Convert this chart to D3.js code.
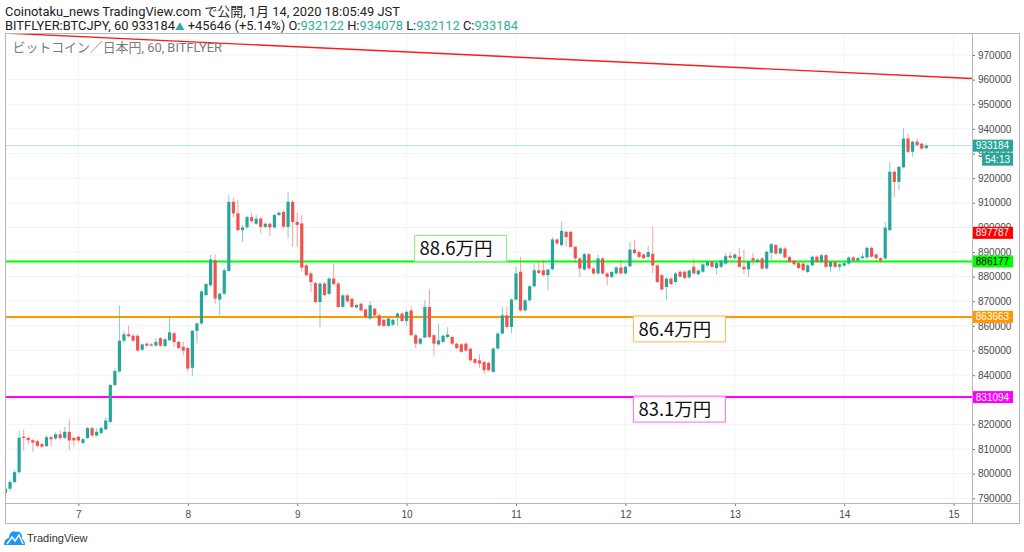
<!DOCTYPE html>
<html>
<head>
<meta charset="utf-8">
<script src="https://cdnjs.cloudflare.com/ajax/libs/d3/7.8.5/d3.min.js"></script>
<style>
    html, body { margin: 0; padding: 0; background: #fff; }
    svg { display: block; }
</style>
</head>
<body>
<svg id="chart" width="1024" height="552"></svg>
<script>
    'use strict';

    // hourly candles, BITFLYER BTCJPY, first candle 2020-01-06 08:00
    var firstCandle = new Date(2020, 0, 6, 8);

    // [open, high, low, close]
    var ohlc = [
        [792200, 794500, 791500, 793900], [793900, 797500, 793000, 796600], [796600, 801500, 796000, 800600],
        [800600, 817500, 800000, 814600], [815000, 817900, 809400, 814500], [814500, 815200, 812000, 813600],
        [813600, 814200, 809000, 812600], [813200, 813800, 810600, 811300], [812000, 812600, 810500, 811000],
        [811200, 815500, 810800, 814800], [814800, 815500, 811000, 814000], [814300, 816800, 813800, 816000],
        [816000, 817500, 813500, 814500], [814500, 819000, 814000, 817000], [817000, 822000, 809400, 813500],
        [814500, 815000, 811000, 813500], [815000, 815500, 812800, 813500], [812500, 814500, 812000, 814000],
        [814500, 819000, 814000, 818500], [818500, 819000, 815000, 815500], [815500, 818500, 815000, 817000],
        [816500, 819500, 816000, 818500], [818000, 823000, 817500, 821600], [821000, 836500, 820500, 836000],
        [836000, 843000, 835500, 841700], [841500, 868300, 841000, 854000], [854000, 858000, 853000, 856600],
        [856600, 860000, 855500, 855800], [856000, 856800, 853500, 854000], [856000, 856500, 849500, 850000],
        [850300, 853000, 849800, 852500], [852800, 853200, 851500, 852000], [852500, 853000, 851600, 852000],
        [852000, 855000, 851500, 853500], [855000, 855500, 851500, 852000], [851800, 855000, 851500, 854600],
        [854200, 863600, 853800, 857400], [857000, 857500, 851500, 853500], [853500, 854000, 850500, 851000],
        [851500, 853500, 848000, 850000], [851000, 851500, 841500, 842700], [843000, 858500, 839700, 858000],
        [858000, 861500, 853000, 861000], [861000, 874500, 860500, 874000], [872500, 877500, 872000, 877000],
        [876500, 889000, 876000, 887000], [886700, 889000, 869000, 871100], [870700, 873600, 864300, 873100],
        [873100, 883500, 872500, 882600], [882300, 913000, 882000, 910400], [910400, 912000, 904000, 905700],
        [905700, 911000, 898500, 898900], [898900, 901000, 894100, 900000], [900000, 904800, 899500, 904200],
        [904200, 906000, 902000, 902500], [901500, 905000, 901000, 903500], [903600, 904200, 897500, 900200],
        [900200, 902000, 899800, 901500], [901500, 902000, 896500, 900000], [900000, 905500, 899500, 905000],
        [905000, 906500, 904500, 906000], [906300, 906800, 899800, 900300], [900200, 914400, 895500, 910400],
        [910400, 911000, 892100, 902200], [902200, 906000, 892000, 901000], [901600, 905000, 882000, 883700],
        [884600, 885500, 880000, 880600], [881300, 882000, 873800, 877800], [877400, 878000, 869200, 869700],
        [869700, 877800, 859600, 877200], [877200, 877800, 872000, 872500], [873000, 879800, 872500, 879200],
        [879200, 885300, 876500, 877000], [877200, 877800, 867200, 867700], [867700, 873000, 867200, 872400],
        [872400, 873000, 869500, 870000], [871000, 871500, 867200, 867700], [867500, 869000, 867000, 868500],
        [869000, 869500, 865800, 866300], [866700, 867200, 863000, 863600], [863000, 870000, 862500, 868400],
        [867000, 867500, 864000, 864300], [864300, 865000, 859800, 860200], [862500, 863000, 859500, 860000],
        [860000, 863500, 859500, 863000], [860500, 863000, 860000, 862500], [863600, 865500, 860000, 865000],
        [865000, 865500, 861500, 862000], [862000, 866200, 860000, 865700], [866300, 868000, 856000, 856200],
        [856200, 856900, 851000, 852800], [852800, 855300, 852300, 854800], [855300, 870400, 855000, 867700],
        [867700, 874800, 855000, 855500], [856200, 856800, 848000, 852800], [852500, 860900, 852000, 854100],
        [853500, 856500, 853000, 856000], [855500, 859500, 855000, 856500], [855500, 856000, 852300, 852800],
        [852800, 853300, 850500, 851000], [852500, 853000, 849000, 849500], [852800, 853300, 849500, 850000],
        [850700, 851200, 845500, 846000], [846500, 847000, 844500, 845000], [846000, 848500, 843000, 844700],
        [845300, 845800, 840600, 842000], [845000, 845500, 841500, 842000], [841300, 851300, 841000, 850800],
        [850800, 857400, 850300, 856900], [856900, 867700, 856400, 864300], [864300, 868000, 859000, 859600],
        [859600, 871200, 857000, 870700], [870700, 884000, 870200, 881300], [882000, 888000, 865800, 866300],
        [866300, 870900, 865800, 870400], [870400, 876600, 869900, 876100], [876100, 885000, 875600, 882600],
        [882600, 886000, 881000, 881500], [882600, 887000, 880000, 880600], [880600, 883000, 874500, 882900],
        [883000, 896000, 882500, 895100], [895100, 895600, 893000, 893500], [892800, 902200, 892300, 898600],
        [898200, 898700, 892100, 896100], [898200, 898700, 891600, 892100], [892100, 892600, 885500, 887400],
        [887400, 887900, 879900, 883300], [882900, 889600, 882400, 889100], [889100, 889600, 882800, 883300],
        [883300, 883800, 880800, 881300], [881300, 889000, 880800, 887400], [887400, 887900, 880800, 881300],
        [881300, 881800, 876500, 879900], [879900, 882400, 879400, 881900], [881300, 884200, 880800, 883700],
        [883700, 887000, 880800, 881300], [881300, 884500, 880800, 884000], [884200, 894100, 883700, 891000],
        [891000, 895000, 889100, 889600], [890000, 890500, 887500, 888000], [889000, 889500, 887000, 887500],
        [888000, 892500, 887500, 890000], [889300, 900200, 881300, 884600], [884600, 885100, 877300, 877800],
        [880600, 881100, 874300, 874800], [875800, 879700, 870400, 879200], [879200, 879700, 876500, 877000],
        [877800, 881800, 877300, 881300], [882000, 882500, 879500, 880000], [882000, 882500, 879000, 879500],
        [879700, 883000, 879200, 882500], [884000, 887500, 880800, 881300], [881000, 883000, 880500, 882500],
        [882000, 885500, 881500, 885000], [884500, 886500, 884000, 886000], [886000, 886500, 883500, 884000],
        [883500, 886000, 881000, 885500], [884000, 887000, 883500, 886500], [885300, 889500, 884800, 888300],
        [888500, 890000, 887200, 887700], [887500, 889500, 887000, 889000], [888100, 891500, 883500, 884000],
        [884000, 891000, 881000, 883000], [883000, 886500, 880000, 886000], [887500, 889500, 884500, 886500],
        [886000, 887500, 885500, 886900], [887400, 887900, 882800, 883300], [883300, 890600, 882800, 890100],
        [889700, 893700, 886800, 893200], [892800, 893300, 888900, 889400], [889400, 892000, 888900, 891500],
        [891400, 891900, 887300, 887800], [888000, 888500, 885500, 886000], [886500, 887000, 884500, 885000],
        [885500, 886000, 883000, 883500], [885300, 885800, 882100, 882600], [881900, 885100, 881400, 884600],
        [884600, 888600, 884100, 888100], [888100, 888600, 885500, 886000], [886000, 889200, 885500, 888700],
        [888700, 889200, 883500, 884000], [884000, 886500, 882000, 886000], [886000, 886500, 883500, 884000],
        [884000, 885500, 882500, 885000], [884500, 886000, 884000, 885500], [885300, 888300, 884800, 887800],
        [887800, 888300, 886000, 886500], [886500, 888000, 886000, 887500], [887500, 889500, 887000, 888200],
        [887800, 892200, 887300, 891700], [891700, 892200, 887600, 888100], [889000, 889500, 886000, 887500],
        [887500, 888000, 885500, 886500], [887400, 902200, 886900, 899900], [898900, 926600, 898400, 922600],
        [922600, 923100, 912400, 918500], [918500, 924900, 915100, 924600], [924400, 940200, 923900, 936100],
        [936100, 938000, 930200, 930700], [930700, 935300, 928700, 934800], [934800, 936000, 933000, 933500],
        [934000, 934500, 931500, 932000], [932122, 934078, 932112, 933184]
    ];

    var priceTicks = d3.range(790000, 970001, 10000);
    var dayTicks = [7, 8, 9, 10, 11, 12, 13, 14, 15].map(function (d) {
        return new Date(2020, 0, d);
    });

    // horizontal support / resistance levels
    var levelPrices = [886177, 863663, 831094];
    var levelNotes = ['88.6万円', '86.4万円', '83.1万円'];
    var noteDays = [10, 12, 12];

    // descending trend line
    var trendTimes = [new Date(2020, 0, 6, 9), new Date(2020, 0, 15, 4)];
    var trendPrices = [978800, 960450];

    // tags on the price scale
    var tagPrices = [933184, 897787, 886177, 863663, 831094];
    var countdown = '54:13';

    var headerTitle = 'Coinotaku_news TradingView.com で公開, 1月 14, 2020 18:05:49 JST';
    var headerQuote = [
        ['BITFLYER:BTCJPY, 60 933184', 0], ['▲', 1], [' +45646 (+5.14%) O:', 0], ['932122', 1],
        [' H:', 0], ['934078', 1], [' L:', 0], ['932112', 1], [' C:', 0], ['933184', 1]
    ];
    var symbolTitle = 'ビットコイン／日本円, 60, BITFLYER';

    var PANE = {LEFT: 5, TOP: 33, RIGHT: 972, BOTTOM: 503, OUTER_RIGHT: 1019, OUTER_BOTTOM: 523};
    var UP = '#26a69a';
    var DOWN = '#ef5350';
    var GRID = '#f0f3f7';
    var FRAME = '#b4b7bd';
    var LEVEL_COLORS = ['#00ff00', '#ff9800', '#ff00ff'];
    var NOTE_BORDERS = ['#7cf57c', '#ffb74d', '#ff66ff'];
    var TAG_FILLS = [UP, '#ff0000', '#00ff00', '#ff9800', '#ff00ff'];
    var TAG_TEXT = ['#fff', '#fff', '#000', '#fff', '#fff'];
    var LATIN = 'Roboto, "Noto Sans CJK JP", sans-serif';
    var NARROW = '"Liberation Sans Narrow", "Liberation Sans", sans-serif';
    var HEADER_SIZE = 12.9;

    var svg = d3.select('#chart');

    var x = d3.scaleTime()
        .domain([dayTicks[0], dayTicks[dayTicks.length - 1]])
        .range([78.4, 953.6]);
    var y = d3.scaleLinear()
        .domain([790000, 970000])
        .range([498.3, 55]);

    function candleTime(i) {
        return d3.timeHour.offset(firstCandle, i);
    }

    function isUp(d) {
        return d[3] >= d[0];
    }

    function renderHeader() {
        svg.append('text')
            .attr('x', 5).attr('y', 16)
            .attr('font-family', LATIN).attr('font-size', HEADER_SIZE)
            .attr('fill', '#222')
            .text(headerTitle);
        var quote = svg.append('text')
            .attr('x', 5).attr('y', 29.5)
            .attr('font-family', LATIN).attr('font-size', HEADER_SIZE)
            .attr('fill', '#222');
        headerQuote.forEach(function (part) {
            quote.append('tspan')
                .attr('fill', part[1] ? '#2fae9f' : '#222')
                .attr('font-size', part[0] === '▲' ? 9.5 : HEADER_SIZE)
                .text(part[0]);
        });
    }

    function renderGrid(group) {
        group.selectAll('line.h').data(priceTicks).enter()
            .append('line')
            .attr('x1', PANE.LEFT).attr('x2', PANE.RIGHT)
            .attr('y1', y).attr('y2', y)
            .attr('stroke', GRID).attr('stroke-width', 1);
        group.selectAll('line.v').data(dayTicks).enter()
            .append('line')
            .attr('x1', x).attr('x2', x)
            .attr('y1', PANE.TOP).attr('y2', PANE.BOTTOM)
            .attr('stroke', GRID).attr('stroke-width', 1);
    }

    function renderCandles(group) {
        var bodyWidth = 3.2;
        var items = group.selectAll('g').data(ohlc).enter().append('g');
        //Wicks
        items.append('line')
            .attr('x1', function (d, i) { return x(candleTime(i)); })
            .attr('x2', function (d, i) { return x(candleTime(i)); })
            .attr('y1', function (d) { return y(d[1]); })
            .attr('y2', function (d) { return y(d[2]); })
            .attr('stroke', function (d) { return isUp(d) ? UP : DOWN; })
            .attr('stroke-opacity', 0.55)
            .attr('stroke-width', 1);
        //Bodies
        items.append('rect')
            .attr('x', function (d, i) { return x(candleTime(i)) - bodyWidth / 2; })
            .attr('width', bodyWidth)
            .attr('y', function (d) { return y(Math.max(d[0], d[3])); })
            .attr('height', function (d) { return Math.max(1, Math.abs(y(d[0]) - y(d[3]))); })
            .attr('fill', function (d) { return isUp(d) ? UP : DOWN; });
    }

    function renderLevels(group) {
        group.append('line')
            .attr('x1', PANE.LEFT).attr('x2', PANE.RIGHT)
            .attr('y1', y(tagPrices[0])).attr('y2', y(tagPrices[0]))
            .attr('stroke', UP).attr('stroke-opacity', 0.35).attr('stroke-width', 1);

        group.selectAll('line.level').data(levelPrices).enter()
            .append('line')
            .attr('x1', PANE.LEFT).attr('x2', PANE.RIGHT)
            .attr('y1', y).attr('y2', y)
            .attr('stroke', function (d, i) { return LEVEL_COLORS[i]; })
            .attr('stroke-width', 2);

        var trend = d3.line()
            .x(function (d) { return x(d[0]); })
            .y(function (d) { return y(d[1]); });
        group.append('path')
            .attr('d', trend(d3.zip(trendTimes, trendPrices)))
            .attr('fill', 'none')
            .attr('stroke', '#ff1a1a')
            .attr('stroke-width', 1.4);
    }

    function renderNotes(group) {
        var w = 92, h = 26;
        levelPrices.forEach(function (price, i) {
            var left = x(new Date(2020, 0, noteDays[i])) + 8;
            var top = i === 0 ? y(price) - h : y(price) - 1;
            group.append('rect')
                .attr('x', left).attr('y', top)
                .attr('width', w).attr('height', h)
                .attr('fill', '#fff').attr('fill-opacity', 0.9)
                .attr('stroke', NOTE_BORDERS[i]).attr('stroke-width', 1);
            group.append('text')
                .attr('x', left + 5).attr('y', top + 20)
                .attr('font-family', '"Noto Sans CJK JP", sans-serif')
                .attr('font-size', 18.5)
                .attr('fill', '#111')
                .text(levelNotes[i]);
        });
    }

    function renderAxes() {
        var right = svg.append('g')
            .attr('transform', 'translate(' + PANE.RIGHT + ',0)')
            .call(d3.axisRight(y).tickValues(priceTicks).tickSize(3).tickPadding(3)
                .tickFormat(d3.format('d')));
        right.select('.domain').remove();
        right.selectAll('line').attr('stroke', '#777');
        right.selectAll('text')
            .attr('font-family', NARROW).attr('font-size', 10).attr('fill', '#4a4a4a');

        var bottom = svg.append('g')
            .attr('transform', 'translate(0,' + PANE.BOTTOM + ')')
            .call(d3.axisBottom(x).tickValues(dayTicks).tickSize(3).tickPadding(5)
                .tickFormat(d3.timeFormat('%-d')));
        bottom.select('.domain').remove();
        bottom.selectAll('line').attr('stroke', '#777');
        bottom.selectAll('text')
            .attr('font-family', NARROW).attr('font-size', 10).attr('fill', '#4a4a4a');
    }

    function renderTags() {
        var tags = svg.append('g');
        tagPrices.forEach(function (price, i) {
            var cy = y(price);
            tags.append('rect')
                .attr('x', PANE.RIGHT).attr('y', cy - 6)
                .attr('width', 41).attr('height', 12)
                .attr('fill', TAG_FILLS[i]);
            tags.append('text')
                .attr('x', PANE.RIGHT + 20.5).attr('y', cy + 3.5)
                .attr('text-anchor', 'middle')
                .attr('font-family', NARROW).attr('font-size', 10)
                .attr('fill', TAG_TEXT[i])
                .text(price);
        });
        //Bar countdown under the last price
        var top = y(tagPrices[0]) + 7;
        tags.append('rect')
            .attr('x', PANE.RIGHT + 10).attr('y', top)
            .attr('width', 31).attr('height', 13)
            .attr('fill', UP);
        tags.append('text')
            .attr('x', PANE.RIGHT + 25.5).attr('y', top + 10)
            .attr('text-anchor', 'middle')
            .attr('font-family', NARROW).attr('font-size', 10)
            .attr('fill', '#fff')
            .text(countdown);
    }

    function renderFrame() {
        var frame = svg.append('g').attr('fill', 'none').attr('stroke', FRAME).attr('stroke-width', 1);
        frame.append('rect')
            .attr('x', PANE.LEFT + 0.5).attr('y', PANE.TOP + 0.5)
            .attr('width', PANE.OUTER_RIGHT - PANE.LEFT)
            .attr('height', PANE.OUTER_BOTTOM - PANE.TOP);
        frame.append('line')
            .attr('x1', PANE.RIGHT + 0.5).attr('x2', PANE.RIGHT + 0.5)
            .attr('y1', PANE.TOP).attr('y2', PANE.OUTER_BOTTOM);
        frame.append('line')
            .attr('x1', PANE.LEFT).attr('x2', PANE.OUTER_RIGHT)
            .attr('y1', PANE.BOTTOM + 0.5).attr('y2', PANE.BOTTOM + 0.5);
    }

    function renderLogo() {
        var logo = svg.append('g').attr('transform', 'translate(4,529)');
        logo.append('path')
            .attr('d', 'M0,16 C0,11 3,9 5,9 C5,4 9,1 12,3 C15,1 19,5 18,10 C20,11 21,13 21,16 Z')
            .attr('fill', '#2196f3');
        logo.append('path')
            .attr('d', 'M3,15 L8,8 L11,12 L15,6 L19,15')
            .attr('fill', 'none').attr('stroke', '#fff').attr('stroke-width', 1.4);
        svg.append('text')
            .attr('x', 27).attr('y', 542)
            .attr('font-family', NARROW).attr('font-size', 11)
            .attr('fill', '#333')
            .text('TradingView');
    }

    function init() {
        svg.append('rect').attr('width', 1024).attr('height', 552).attr('fill', '#fff');
        svg.append('clipPath').attr('id', 'pane')
            .append('rect')
            .attr('x', PANE.LEFT).attr('y', PANE.TOP)
            .attr('width', PANE.RIGHT - PANE.LEFT).attr('height', PANE.BOTTOM - PANE.TOP);

        var pane = svg.append('g').attr('clip-path', 'url(#pane)');
        renderGrid(pane.append('g'));
        renderLevels(pane.append('g'));
        renderCandles(pane.append('g'));
        renderNotes(pane.append('g'));

        pane.append('text')
            .attr('x', 12.5).attr('y', 52)
            .attr('font-family', LATIN).attr('font-size', HEADER_SIZE)
            .attr('fill', '#7b7b7b')
            .text(symbolTitle);

        renderHeader();
        renderAxes();
        renderTags();
        renderFrame();
        renderLogo();
    }

    init();
</script>
</body>
</html>
